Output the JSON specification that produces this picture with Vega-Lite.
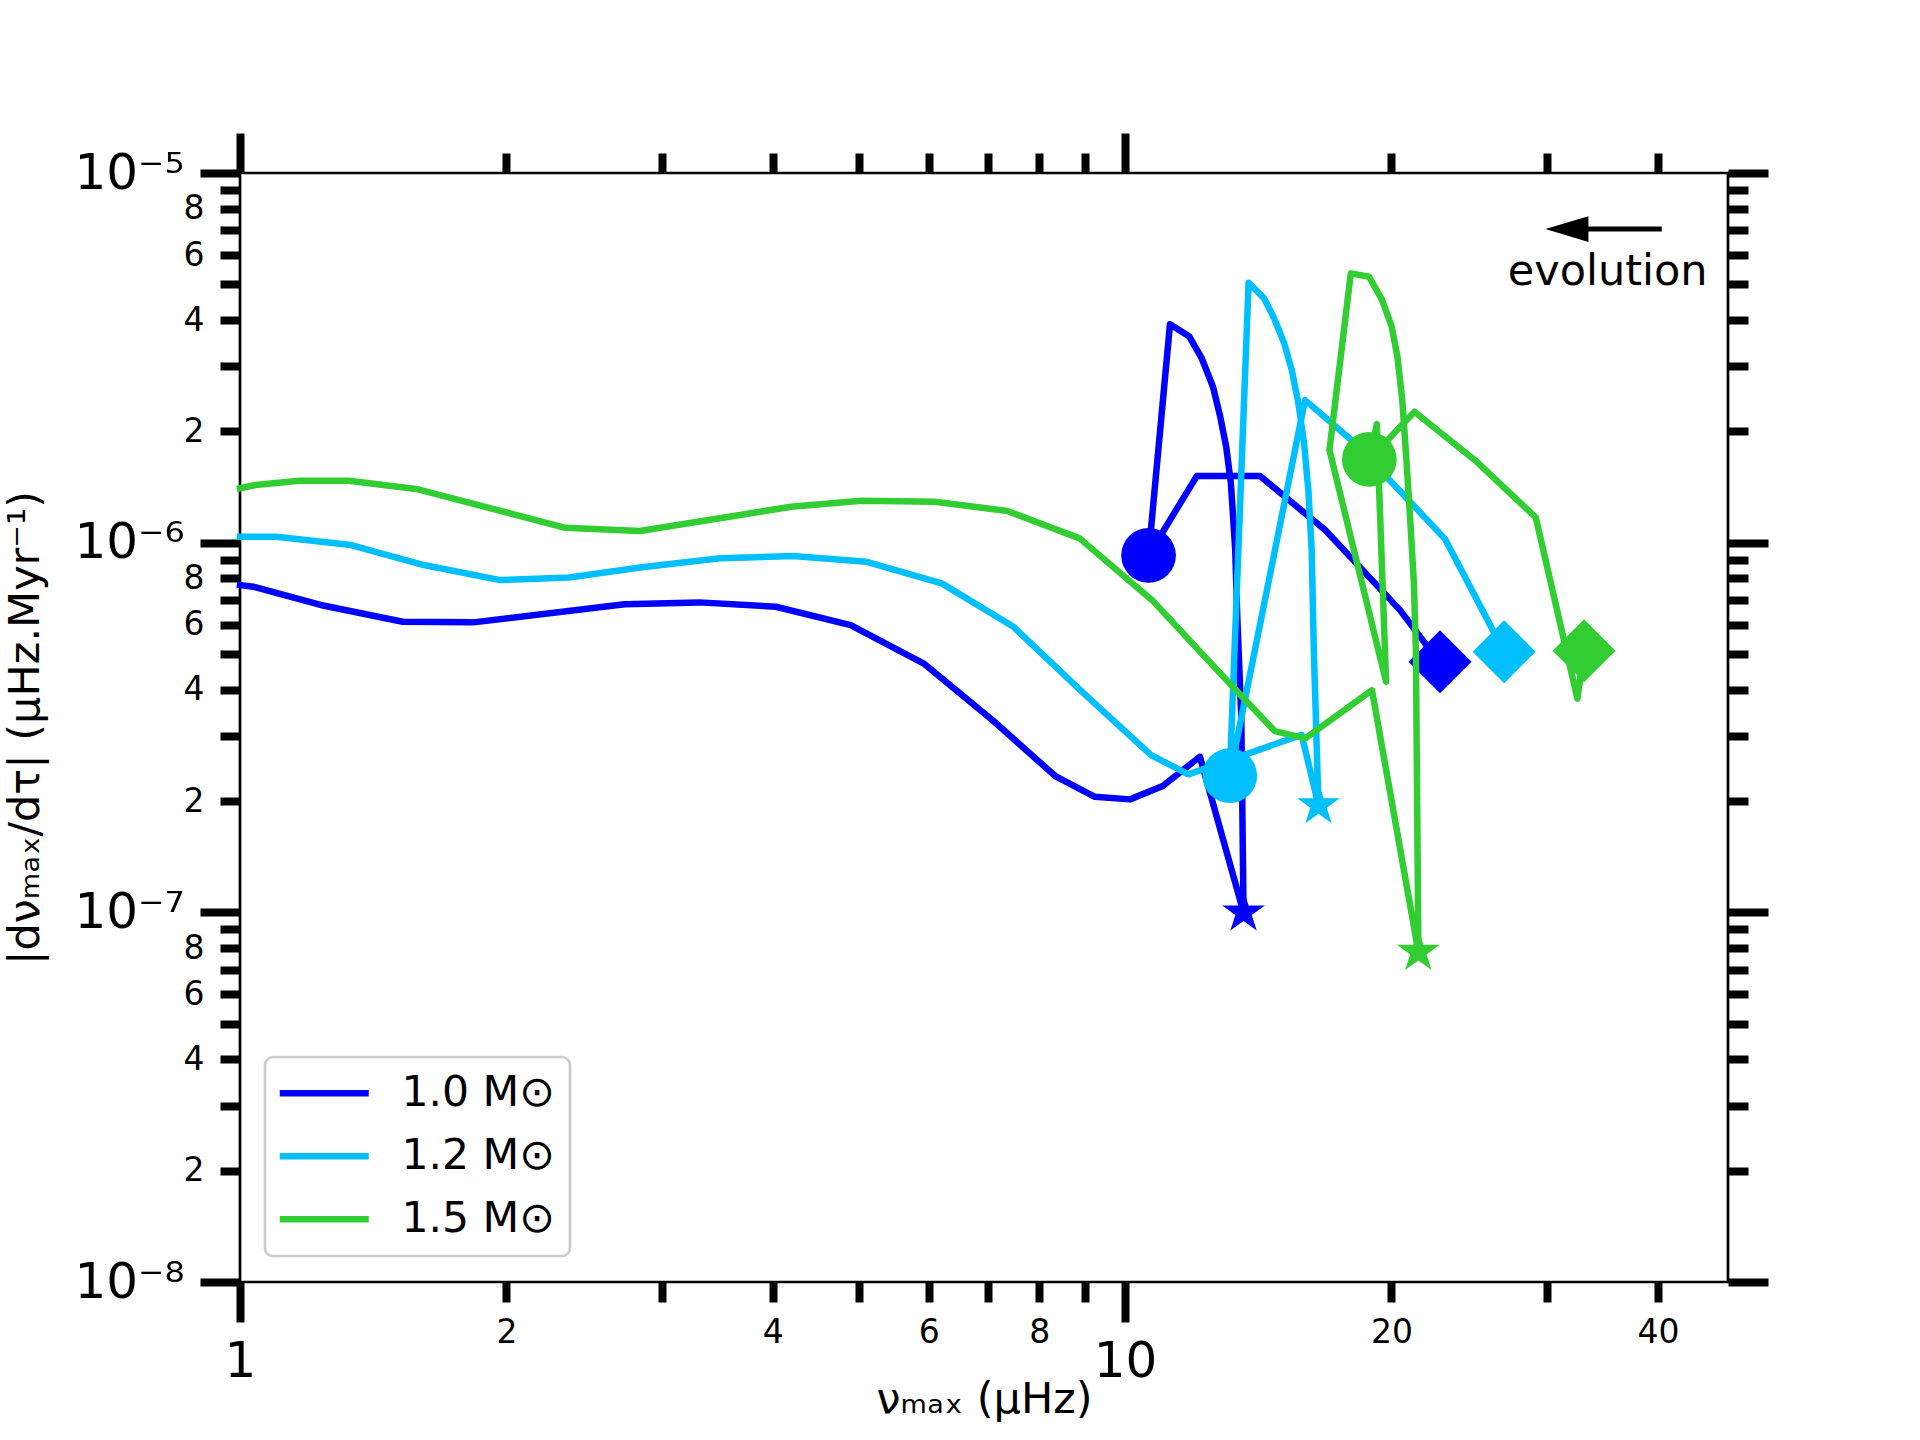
{
  "$schema": "https://vega.github.io/schema/vega-lite/v6.json",
  "width": 1488,
  "height": 1109,
  "autosize": {"type": "none"},
  "padding": {"left": 240, "top": 173, "right": 192, "bottom": 158},
  "background": "white",
  "config": {
    "font": "DejaVu Sans",
    "view": {"stroke": "black", "strokeWidth": 2.7},
    "axis": {
      "domain": false, "grid": false, "tickColor": "black", "tickWidth": 8,
      "labelColor": "black", "labelFont": "DejaVu Sans", "titleFont": "DejaVu Sans",
      "titleFontWeight": "normal", "titleColor": "black",
      "labelOverlap": false, "labelFlush": false, "labelBound": false
    }
  },
  "datasets": {
    "tracks": [
      {"mass": "1.0 M⊙", "i": 1, "nu": 22.69, "rate": 4.76e-7},
      {"mass": "1.0 M⊙", "i": 2, "nu": 21.83, "rate": 5.34e-7},
      {"mass": "1.0 M⊙", "i": 3, "nu": 20.45, "rate": 6.57e-7},
      {"mass": "1.0 M⊙", "i": 4, "nu": 18.11, "rate": 8.97e-7},
      {"mass": "1.0 M⊙", "i": 5, "nu": 16.83, "rate": 1.082e-6},
      {"mass": "1.0 M⊙", "i": 6, "nu": 14.21, "rate": 1.514e-6},
      {"mass": "1.0 M⊙", "i": 7, "nu": 12.05, "rate": 1.514e-6},
      {"mass": "1.0 M⊙", "i": 8, "nu": 10.63, "rate": 9.24e-7},
      {"mass": "1.0 M⊙", "i": 9, "nu": 11.24, "rate": 3.90e-6},
      {"mass": "1.0 M⊙", "i": 10, "nu": 11.82, "rate": 3.61e-6},
      {"mass": "1.0 M⊙", "i": 11, "nu": 12.21, "rate": 3.15e-6},
      {"mass": "1.0 M⊙", "i": 12, "nu": 12.57, "rate": 2.64e-6},
      {"mass": "1.0 M⊙", "i": 13, "nu": 12.81, "rate": 2.19e-6},
      {"mass": "1.0 M⊙", "i": 14, "nu": 13.01, "rate": 1.817e-6},
      {"mass": "1.0 M⊙", "i": 15, "nu": 13.17, "rate": 1.447e-6},
      {"mass": "1.0 M⊙", "i": 16, "nu": 13.32, "rate": 9.55e-7},
      {"mass": "1.0 M⊙", "i": 17, "nu": 13.39, "rate": 6.30e-7},
      {"mass": "1.0 M⊙", "i": 18, "nu": 13.53, "rate": 3.38e-7},
      {"mass": "1.0 M⊙", "i": 19, "nu": 13.61, "rate": 1.0e-7},
      {"mass": "1.0 M⊙", "i": 20, "nu": 12.15, "rate": 2.636e-7},
      {"mass": "1.0 M⊙", "i": 21, "nu": 11.03, "rate": 2.196e-7},
      {"mass": "1.0 M⊙", "i": 22, "nu": 10.13, "rate": 2.021e-7},
      {"mass": "1.0 M⊙", "i": 23, "nu": 9.245, "rate": 2.054e-7},
      {"mass": "1.0 M⊙", "i": 24, "nu": 8.34, "rate": 2.337e-7},
      {"mass": "1.0 M⊙", "i": 25, "nu": 7.08, "rate": 3.313e-7},
      {"mass": "1.0 M⊙", "i": 26, "nu": 5.918, "rate": 4.716e-7},
      {"mass": "1.0 M⊙", "i": 27, "nu": 4.897, "rate": 5.985e-7},
      {"mass": "1.0 M⊙", "i": 28, "nu": 4.031, "rate": 6.708e-7},
      {"mass": "1.0 M⊙", "i": 29, "nu": 3.303, "rate": 6.894e-7},
      {"mass": "1.0 M⊙", "i": 30, "nu": 2.72, "rate": 6.81e-7},
      {"mass": "1.0 M⊙", "i": 31, "nu": 1.835, "rate": 6.087e-7},
      {"mass": "1.0 M⊙", "i": 32, "nu": 1.527, "rate": 6.11e-7},
      {"mass": "1.0 M⊙", "i": 33, "nu": 1.245, "rate": 6.75e-7},
      {"mass": "1.0 M⊙", "i": 34, "nu": 1.035, "rate": 7.6e-7},
      {"mass": "1.0 M⊙", "i": 35, "nu": 1.0, "rate": 7.68e-7},

      {"mass": "1.2 M⊙", "i": 1, "nu": 26.81, "rate": 5.07e-7},
      {"mass": "1.2 M⊙", "i": 2, "nu": 22.98, "rate": 1.024e-6},
      {"mass": "1.2 M⊙", "i": 3, "nu": 20.99, "rate": 1.29e-6},
      {"mass": "1.2 M⊙", "i": 4, "nu": 18.11, "rate": 1.875e-6},
      {"mass": "1.2 M⊙", "i": 5, "nu": 15.97, "rate": 2.43e-6},
      {"mass": "1.2 M⊙", "i": 6, "nu": 13.13, "rate": 2.342e-7},
      {"mass": "1.2 M⊙", "i": 7, "nu": 13.79, "rate": 5.05e-6},
      {"mass": "1.2 M⊙", "i": 8, "nu": 14.36, "rate": 4.58e-6},
      {"mass": "1.2 M⊙", "i": 9, "nu": 14.74, "rate": 4.04e-6},
      {"mass": "1.2 M⊙", "i": 10, "nu": 15.13, "rate": 3.46e-6},
      {"mass": "1.2 M⊙", "i": 11, "nu": 15.43, "rate": 2.93e-6},
      {"mass": "1.2 M⊙", "i": 12, "nu": 15.7, "rate": 2.38e-6},
      {"mass": "1.2 M⊙", "i": 13, "nu": 15.93, "rate": 1.856e-6},
      {"mass": "1.2 M⊙", "i": 14, "nu": 16.11, "rate": 1.388e-6},
      {"mass": "1.2 M⊙", "i": 15, "nu": 16.25, "rate": 9.55e-7},
      {"mass": "1.2 M⊙", "i": 16, "nu": 16.34, "rate": 5.12e-7},
      {"mass": "1.2 M⊙", "i": 17, "nu": 16.54, "rate": 1.95e-7},
      {"mass": "1.2 M⊙", "i": 18, "nu": 15.83, "rate": 3.02e-7},
      {"mass": "1.2 M⊙", "i": 19, "nu": 11.79, "rate": 2.362e-7},
      {"mass": "1.2 M⊙", "i": 20, "nu": 10.7, "rate": 2.664e-7},
      {"mass": "1.2 M⊙", "i": 21, "nu": 8.9, "rate": 3.993e-7},
      {"mass": "1.2 M⊙", "i": 22, "nu": 7.48, "rate": 5.92e-7},
      {"mass": "1.2 M⊙", "i": 23, "nu": 6.207, "rate": 7.76e-7},
      {"mass": "1.2 M⊙", "i": 24, "nu": 5.096, "rate": 8.88e-7},
      {"mass": "1.2 M⊙", "i": 25, "nu": 4.216, "rate": 9.2e-7},
      {"mass": "1.2 M⊙", "i": 26, "nu": 3.488, "rate": 9.07e-7},
      {"mass": "1.2 M⊙", "i": 27, "nu": 2.845, "rate": 8.58e-7},
      {"mass": "1.2 M⊙", "i": 28, "nu": 2.355, "rate": 8.05e-7},
      {"mass": "1.2 M⊙", "i": 29, "nu": 1.968, "rate": 7.92e-7},
      {"mass": "1.2 M⊙", "i": 30, "nu": 1.613, "rate": 8.7e-7},
      {"mass": "1.2 M⊙", "i": 31, "nu": 1.335, "rate": 9.85e-7},
      {"mass": "1.2 M⊙", "i": 32, "nu": 1.099, "rate": 1.038e-6},
      {"mass": "1.2 M⊙", "i": 33, "nu": 1.0, "rate": 1.038e-6},

      {"mass": "1.5 M⊙", "i": 1, "nu": 33.01, "rate": 5.1e-7},
      {"mass": "1.5 M⊙", "i": 2, "nu": 32.44, "rate": 3.79e-7},
      {"mass": "1.5 M⊙", "i": 3, "nu": 29.11, "rate": 1.17e-6},
      {"mass": "1.5 M⊙", "i": 4, "nu": 24.97, "rate": 1.655e-6},
      {"mass": "1.5 M⊙", "i": 5, "nu": 21.23, "rate": 2.26e-6},
      {"mass": "1.5 M⊙", "i": 6, "nu": 18.88, "rate": 1.68e-6},
      {"mass": "1.5 M⊙", "i": 7, "nu": 19.25, "rate": 2.093e-6},
      {"mass": "1.5 M⊙", "i": 8, "nu": 19.72, "rate": 4.205e-7},
      {"mass": "1.5 M⊙", "i": 9, "nu": 17.02, "rate": 1.781e-6},
      {"mass": "1.5 M⊙", "i": 10, "nu": 17.99, "rate": 5.35e-6},
      {"mass": "1.5 M⊙", "i": 11, "nu": 18.87, "rate": 5.24e-6},
      {"mass": "1.5 M⊙", "i": 12, "nu": 19.52, "rate": 4.53e-6},
      {"mass": "1.5 M⊙", "i": 13, "nu": 20.01, "rate": 3.84e-6},
      {"mass": "1.5 M⊙", "i": 14, "nu": 20.31, "rate": 3.18e-6},
      {"mass": "1.5 M⊙", "i": 15, "nu": 20.57, "rate": 2.43e-6},
      {"mass": "1.5 M⊙", "i": 16, "nu": 20.78, "rate": 1.707e-6},
      {"mass": "1.5 M⊙", "i": 17, "nu": 20.99, "rate": 1.175e-6},
      {"mass": "1.5 M⊙", "i": 18, "nu": 21.2, "rate": 7.76e-7},
      {"mass": "1.5 M⊙", "i": 19, "nu": 21.31, "rate": 5.12e-7},
      {"mass": "1.5 M⊙", "i": 20, "nu": 21.45, "rate": 7.82e-8},
      {"mass": "1.5 M⊙", "i": 21, "nu": 19.01, "rate": 3.99e-7},
      {"mass": "1.5 M⊙", "i": 22, "nu": 15.98, "rate": 2.956e-7},
      {"mass": "1.5 M⊙", "i": 23, "nu": 14.76, "rate": 3.093e-7},
      {"mass": "1.5 M⊙", "i": 24, "nu": 13.13, "rate": 4.16e-7},
      {"mass": "1.5 M⊙", "i": 25, "nu": 10.73, "rate": 6.99e-7},
      {"mass": "1.5 M⊙", "i": 26, "nu": 8.885, "rate": 1.027e-6},
      {"mass": "1.5 M⊙", "i": 27, "nu": 7.366, "rate": 1.218e-6},
      {"mass": "1.5 M⊙", "i": 28, "nu": 6.097, "rate": 1.29e-6},
      {"mass": "1.5 M⊙", "i": 29, "nu": 5.036, "rate": 1.298e-6},
      {"mass": "1.5 M⊙", "i": 30, "nu": 4.195, "rate": 1.251e-6},
      {"mass": "1.5 M⊙", "i": 31, "nu": 2.831, "rate": 1.075e-6},
      {"mass": "1.5 M⊙", "i": 32, "nu": 2.331, "rate": 1.097e-6},
      {"mass": "1.5 M⊙", "i": 33, "nu": 1.589, "rate": 1.394e-6},
      {"mass": "1.5 M⊙", "i": 34, "nu": 1.328, "rate": 1.47e-6},
      {"mass": "1.5 M⊙", "i": 35, "nu": 1.167, "rate": 1.47e-6},
      {"mass": "1.5 M⊙", "i": 36, "nu": 1.041, "rate": 1.432e-6},
      {"mass": "1.5 M⊙", "i": 37, "nu": 1.0, "rate": 1.403e-6}
    ],
    "markers": [
      {"mass": "1.0 M⊙", "stage": "A", "nu": 22.69, "rate": 4.76e-7},
      {"mass": "1.0 M⊙", "stage": "B", "nu": 10.63, "rate": 9.24e-7},
      {"mass": "1.0 M⊙", "stage": "C", "nu": 13.61, "rate": 1.0e-7},
      {"mass": "1.2 M⊙", "stage": "A", "nu": 26.81, "rate": 5.07e-7},
      {"mass": "1.2 M⊙", "stage": "B", "nu": 13.13, "rate": 2.342e-7},
      {"mass": "1.2 M⊙", "stage": "C", "nu": 16.54, "rate": 1.95e-7},
      {"mass": "1.5 M⊙", "stage": "A", "nu": 33.01, "rate": 5.1e-7},
      {"mass": "1.5 M⊙", "stage": "B", "nu": 18.88, "rate": 1.68e-6},
      {"mass": "1.5 M⊙", "stage": "C", "nu": 21.45, "rate": 7.82e-8}
    ],
    "arrow": [
      {"tip": 29.85, "start": 31.0, "end": 40.4, "rate": 7.05e-6}
    ],
    "notes": [
      {"nu": 35.1, "rate": 5.41e-6, "label": "evolution"}
    ]
  },
  "layer": [
    {
      "data": {"name": "tracks"},
      "transform": [{"filter": {"field": "mass", "equal": "1.0 M⊙"}}],
      "mark": {"type": "line", "strokeWidth": 6.5, "strokeJoin": "round", "strokeCap": "square"},
      "encoding": {
        "x": {
          "field": "nu", "type": "quantitative",
          "scale": {"type": "log", "domain": [1, 48], "nice": false},
          "axis": {
            "orient": "bottom",
            "values": [1, 2, 3, 4, 5, 6, 7, 8, 9, 10, 20, 30, 40],
            "tickSize": {"condition": {"test": "datum.value == 1 || datum.value == 10", "value": 40}, "value": 20},
            "labelFontSize": {"condition": {"test": "datum.value == 1 || datum.value == 10", "value": 50}, "value": 33},
            "labelPadding": 14,
            "labelExpr": "indexof([1, 2, 4, 6, 8, 10, 20, 40], datum.value) >= 0 ? '' + datum.value : ''",
            "title": "νₘₐₓ (μHz)",
            "titleFontSize": 43,
            "titlePadding": -8
          }
        },
        "y": {
          "field": "rate", "type": "quantitative",
          "scale": {"type": "log", "domain": [1e-8, 1e-5], "nice": false},
          "axis": {
            "orient": "left",
            "values": [1e-8, 2e-8, 3e-8, 4e-8, 5e-8, 6e-8, 7e-8, 8e-8, 9e-8, 1e-7, 2e-7, 3e-7, 4e-7, 5e-7, 6e-7, 7e-7, 8e-7, 9e-7, 1e-6, 2e-6, 3e-6, 4e-6, 5e-6, 6e-6, 7e-6, 8e-6, 9e-6, 1e-5],
            "tickSize": {"condition": {"test": "round(datum.value / pow(10, floor(log(datum.value) / LN10 + 0.001))) == 1", "value": 40}, "value": 20},
            "labelFontSize": {"condition": {"test": "round(datum.value / pow(10, floor(log(datum.value) / LN10 + 0.001))) == 1", "value": 50}, "value": 33},
            "labelPadding": 16,
            "labelExpr": "round(datum.value / pow(10, floor(log(datum.value) / LN10 + 0.001))) == 1 ? (floor(log(datum.value) / LN10 + 0.001) == -5 ? '10⁻⁵' : floor(log(datum.value) / LN10 + 0.001) == -6 ? '10⁻⁶' : floor(log(datum.value) / LN10 + 0.001) == -7 ? '10⁻⁷' : '10⁻⁸') : (round(datum.value / pow(10, floor(log(datum.value) / LN10 + 0.001))) % 2 == 0 ? '' + round(datum.value / pow(10, floor(log(datum.value) / LN10 + 0.001))) : '')",
            "title": "|dνₘₐₓ/dτ| (μHz.Myr⁻¹)",
            "titleFontSize": 43,
            "titlePadding": 26
          }
        },
        "color": {
          "field": "mass", "type": "nominal",
          "scale": {"domain": ["1.0 M⊙", "1.2 M⊙", "1.5 M⊙"], "range": ["#0000ff", "#00bfff", "#32cd32"]},
          "legend": {
            "orient": "none", "legendX": 25, "legendY": 884, "title": null,
            "symbolType": "M-3,0L3,0", "symbolSize": 880, "symbolStrokeWidth": 6.7,
            "symbolOffset": 23, "labelOffset": 56,
            "labelFontSize": 42.5, "labelFont": "DejaVu Sans", "labelColor": "black",
            "rowPadding": 20, "padding": 15,
            "strokeColor": "#cccccc", "cornerRadius": 8, "fillColor": "white",
            "encode": {"legend": {"update": {"strokeWidth": {"value": 2.7}}}}
          }
        },
        "order": {"field": "i", "type": "quantitative"}
      }
    },
    {
      "data": {"name": "markers"},
      "transform": [{"filter": {"field": "mass", "equal": "1.0 M⊙"}}],
      "mark": {"type": "point", "filled": true, "opacity": 1, "strokeWidth": 0},
      "encoding": {
        "x": {
          "field": "nu", "type": "quantitative",
          "axis": {
            "orient": "top",
            "values": [1, 2, 3, 4, 5, 6, 7, 8, 9, 10, 20, 30, 40],
            "tickSize": {"condition": {"test": "datum.value == 1 || datum.value == 10", "value": 40}, "value": 20},
            "labels": false, "title": null
          }
        },
        "y": {
          "field": "rate", "type": "quantitative",
          "axis": {
            "orient": "right",
            "values": [1e-8, 2e-8, 3e-8, 4e-8, 5e-8, 6e-8, 7e-8, 8e-8, 9e-8, 1e-7, 2e-7, 3e-7, 4e-7, 5e-7, 6e-7, 7e-7, 8e-7, 9e-7, 1e-6, 2e-6, 3e-6, 4e-6, 5e-6, 6e-6, 7e-6, 8e-6, 9e-6, 1e-5],
            "tickSize": {"condition": {"test": "round(datum.value / pow(10, floor(log(datum.value) / LN10 + 0.001))) == 1", "value": 40}, "value": 20},
            "labels": false, "title": null
          }
        },
        "color": {"field": "mass", "type": "nominal", "legend": null},
        "shape": {
          "field": "stage", "type": "nominal", "legend": null,
          "scale": {"domain": ["A", "B", "C"], "range": ["diamond", "circle", "M0,-1L0.2245,-0.309L0.9511,-0.309L0.3633,0.118L0.5878,0.809L0,0.382L-0.5878,0.809L-0.3633,0.118L-0.9511,-0.309L-0.2245,-0.309Z"]}
        },
        "size": {
          "field": "stage", "type": "ordinal", "legend": null,
          "scale": {"domain": ["A", "B", "C"], "range": [3969, 2025, 2100]}
        }
      }
    },
    {
      "data": {"name": "tracks"},
      "transform": [{"filter": {"field": "mass", "equal": "1.2 M⊙"}}],
      "mark": {"type": "line", "strokeWidth": 6.5, "strokeJoin": "round", "strokeCap": "square"},
      "encoding": {
        "x": {"field": "nu", "type": "quantitative", "axis": null},
        "y": {"field": "rate", "type": "quantitative", "axis": null},
        "color": {"field": "mass", "type": "nominal"},
        "order": {"field": "i", "type": "quantitative"}
      }
    },
    {
      "data": {"name": "markers"},
      "transform": [{"filter": {"field": "mass", "equal": "1.2 M⊙"}}],
      "mark": {"type": "point", "filled": true, "opacity": 1, "strokeWidth": 0},
      "encoding": {
        "x": {"field": "nu", "type": "quantitative", "axis": null},
        "y": {"field": "rate", "type": "quantitative", "axis": null},
        "color": {"field": "mass", "type": "nominal", "legend": null},
        "shape": {"field": "stage", "type": "nominal", "legend": null},
        "size": {"field": "stage", "type": "ordinal", "legend": null}
      }
    },
    {
      "data": {"name": "tracks"},
      "transform": [{"filter": {"field": "mass", "equal": "1.5 M⊙"}}],
      "mark": {"type": "line", "strokeWidth": 6.5, "strokeJoin": "round", "strokeCap": "square"},
      "encoding": {
        "x": {"field": "nu", "type": "quantitative", "axis": null},
        "y": {"field": "rate", "type": "quantitative", "axis": null},
        "color": {"field": "mass", "type": "nominal"},
        "order": {"field": "i", "type": "quantitative"}
      }
    },
    {
      "data": {"name": "markers"},
      "transform": [{"filter": {"field": "mass", "equal": "1.5 M⊙"}}],
      "mark": {"type": "point", "filled": true, "opacity": 1, "strokeWidth": 0},
      "encoding": {
        "x": {"field": "nu", "type": "quantitative", "axis": null},
        "y": {"field": "rate", "type": "quantitative", "axis": null},
        "color": {"field": "mass", "type": "nominal", "legend": null},
        "shape": {"field": "stage", "type": "nominal", "legend": null},
        "size": {"field": "stage", "type": "ordinal", "legend": null}
      }
    },
    {
      "data": {"name": "arrow"},
      "mark": {"type": "rule", "color": "black", "strokeWidth": 5},
      "encoding": {
        "x": {"field": "start", "type": "quantitative", "axis": null},
        "x2": {"field": "end"},
        "y": {"field": "rate", "type": "quantitative", "axis": null}
      }
    },
    {
      "data": {"name": "arrow"},
      "mark": {"type": "point", "filled": true, "opacity": 1, "color": "black", "strokeWidth": 0, "size": 1849, "shape": "M0,0L2,-0.6L2,0.6Z"},
      "encoding": {
        "x": {"field": "tip", "type": "quantitative", "axis": null},
        "y": {"field": "rate", "type": "quantitative", "axis": null}
      }
    },
    {
      "data": {"name": "notes"},
      "mark": {"type": "text", "fontSize": 43, "font": "DejaVu Sans", "color": "black", "align": "center", "baseline": "middle"},
      "encoding": {
        "x": {"field": "nu", "type": "quantitative", "axis": null},
        "y": {"field": "rate", "type": "quantitative", "axis": null},
        "text": {"field": "label"}
      }
    }
  ],
  "resolve": {"axis": {"x": "independent", "y": "independent"}}
}
